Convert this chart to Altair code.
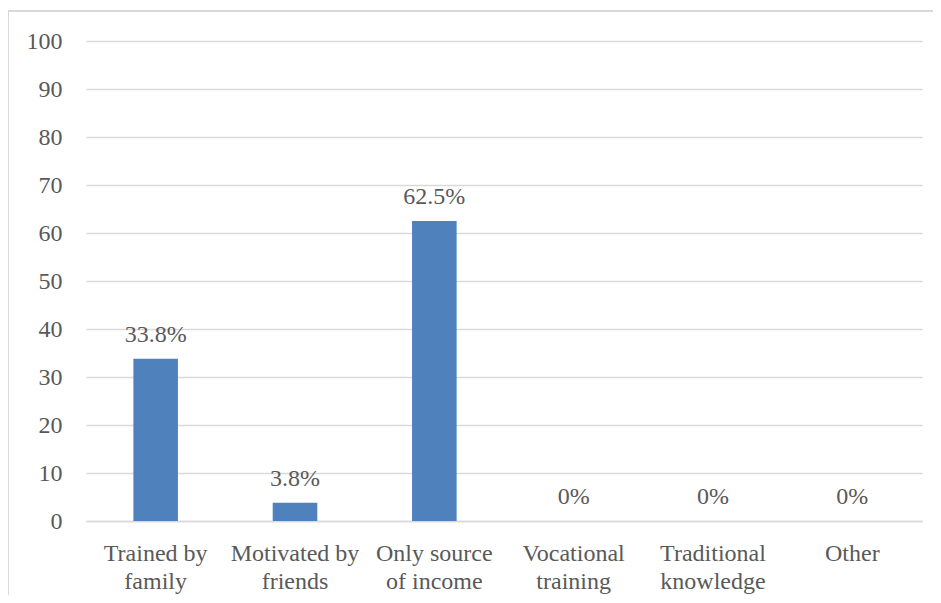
import altair as alt
import pandas as pd

categories = ["Trained by|family", "Motivated by|friends", "Only source|of income",
              "Vocational|training", "Traditional|knowledge", "Other"]
values = [33.8, 3.8, 62.5, 0, 0, 0]
labels = ["33.8%", "3.8%", "62.5%", "0%", "0%", "0%"]

df = pd.DataFrame({"cat": categories, "val": values, "lab": labels})

FONT = "Liberation Serif"
GRAY = "#595959"
FS = 24

x = alt.X("cat:N", sort=categories, title=None,
          scale=alt.Scale(paddingInner=0.68, paddingOuter=0.34),
          axis=alt.Axis(labelExpr="split(datum.label, '|')", labelAngle=0,
                        labelFont=FONT, labelFontSize=FS, labelColor=GRAY,
                        labelPadding=20, labelLineHeight=28, ticks=False,
                        domainColor="#d9d9d9", domainWidth=1.5, grid=False))
y = alt.Y("val:Q", title=None,
          scale=alt.Scale(domain=[0, 100], nice=False),
          axis=alt.Axis(values=list(range(0, 101, 10)), labelFont=FONT,
                        labelFontSize=FS, labelColor=GRAY, labelPadding=24,
                        ticks=False, domain=False, gridColor="#d9d9d9",
                        gridWidth=1.5))

bars = alt.Chart(df).mark_bar(color="#4F81BD").encode(x=x, y=y)
text = alt.Chart(df).mark_text(font=FONT, fontSize=FS, color=GRAY,
                               baseline="bottom", dy=-12).encode(
    x=alt.X("cat:N", sort=categories), y="val:Q", text="lab:N")

frame = alt.Chart(df).mark_rect(fill=None, stroke="#d9d9d9", strokeWidth=2).encode(
    x=alt.value(-78), x2=alt.value(900), y=alt.value(-30), y2=alt.value(700))

chart = alt.layer(frame, bars, text).properties(
    width=836, height=480,
    autosize=alt.AutoSizeParams(type="none"),
    padding={"left": 78, "top": 33, "right": 11, "bottom": 74},
).configure_view(stroke=None)

chart.save("out.html", embed_options={"renderer": "svg", "actions": False})
